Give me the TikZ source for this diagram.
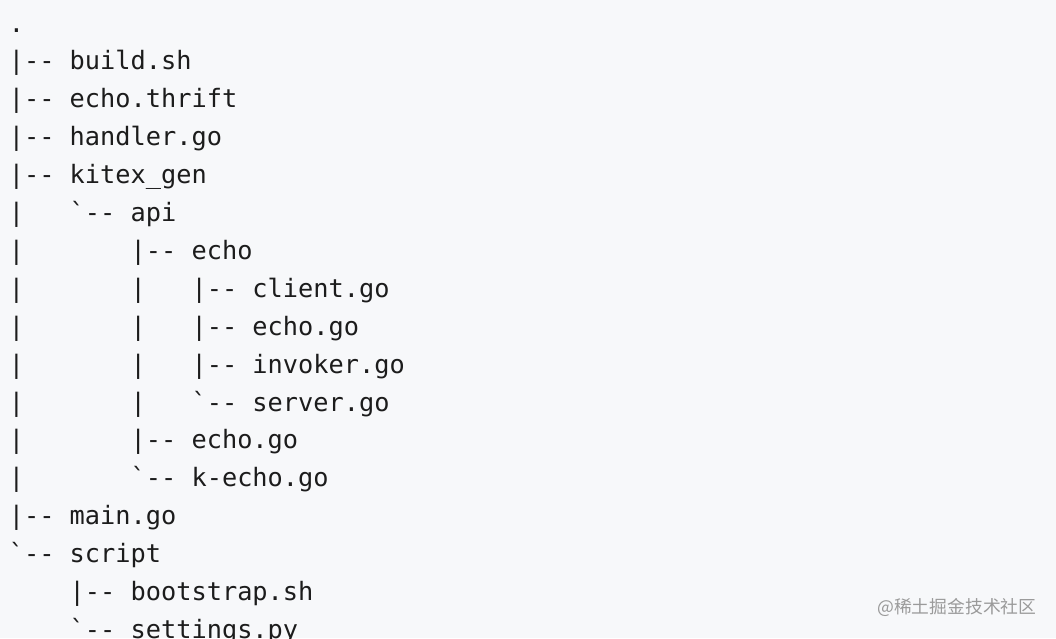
\documentclass[tikz,border=0pt]{standalone}
\usepackage{fontspec}
\setmonofont{DejaVu Sans Mono}
\newfontfamily\cjk{Noto Sans CJK SC}
\usepackage{tikz}
\definecolor{pagebg}{HTML}{F7F8FA}
\definecolor{treeink}{HTML}{1C1C1C}
\definecolor{markgray}{HTML}{9A9A9A}
\tikzset{
  entry/.style={anchor=base west, inner sep=0pt, outer sep=0pt, text=treeink,
    font=\ttfamily\fontsize{25.3}{37.9}\selectfont},
  watermark/.style={anchor=west, inner sep=0pt, text=markgray,
    font=\cjk\fontsize{17.8}{20}\selectfont}
}
\newcommand{\colx}[1]{8.8+#1*15.23}
\newcommand{\rowy}[1]{32+#1*37.9}

\begin{document}
\begin{tikzpicture}[x=1pt, y=-1pt]
  % Background
  \fill[pagebg] (0,0) rectangle (1056,638);
  \useasboundingbox (0,0) rectangle (1056,638);

  % Tree lines: row/column/text
  \foreach \r/\c/\t in {0/0/{.}, 1/0/{|-- build.sh}, 2/0/{|-- echo.thrift},
      3/0/{|-- handler.go}, 4/0/{|-- kitex\_gen}, 5/4/{`-- api},
      6/8/{|-- echo}, 7/12/{|-- client.go}, 8/12/{|-- echo.go},
      9/12/{|-- invoker.go}, 10/12/{`-- server.go}, 11/8/{|-- echo.go},
      12/8/{`-- k-echo.go}, 13/0/{|-- main.go}, 14/0/{`-- script},
      15/4/{|-- bootstrap.sh}, 16/4/{`-- settings.py}} {
    \node[entry] (line\r) at ({\colx{\c}},{\rowy{\r}}) {\t};
  }

  % Vertical bars of open branches
  \foreach \r in {5,...,12} {
    \node[entry] (bar\r) at ({\colx{0}},{\rowy{\r}}) {|};
  }
  \foreach \r in {7,...,10} {
    \node[entry] (subbar\r) at ({\colx{8}},{\rowy{\r}}) {|};
  }

  % Watermark
  \node[watermark] (mark) at (877,607) {@稀土掘金技术社区};
\end{tikzpicture}
\end{document}
